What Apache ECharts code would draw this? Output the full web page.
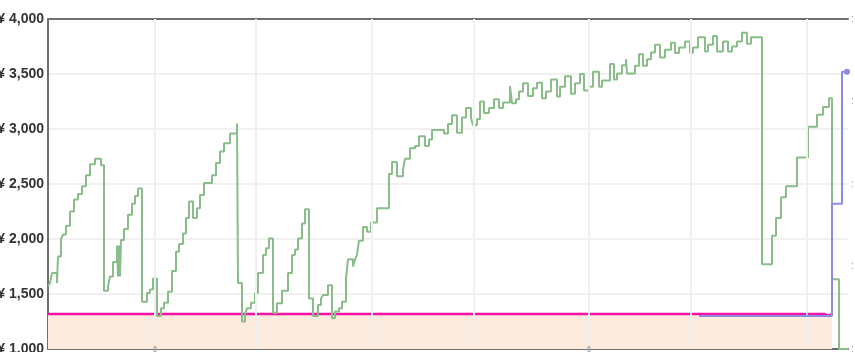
<!DOCTYPE html>
<html>
<head>
<meta charset="utf-8">
<script src="https://cdn.jsdelivr.net/npm/echarts@6/dist/echarts.min.js"></script>
<style>html,body{margin:0;padding:0;background:#fff}#c{width:855px;height:352px}</style>
</head>
<body>
<div id="c"></div>
<script>
// x positions are days along the time axis (0..800), y values are prices in yen
const yTicks = [1000, 1500, 2000, 2500, 3000, 3500, 4000];
const monthLines = [107, 208, 324, 426, 541, 643, 759];
const axisTickDays = [107, 541];

const greenDays = [0,2,4,9,10,13,15,18,22,26,30,34,38,42,47,53,56,60,62,65,69,70,71,72,73,76,80,84,87,90,94,99,102,105,109,113,116,120,124,128,131,135,138,141,145,149,152,156,164,168,172,176,182,189,190,194,197,199,203,207,210,215,218,221,225,229,234,240,244,247,250,254,257,261,265,270,273,275,280,284,287,291,294,298,300,305,307,309,311,315,319,323,329,341,344,349,355,357,362,367,371,377,381,384,396,400,404,409,414,418,423,425,429,432,436,441,446,451,455,462,464,468,471,475,480,485,489,494,498,503,509,512,517,523,527,532,536,541,545,551,554,562,566,569,574,578,579,587,591,595,599,603,607,612,617,623,627,631,637,642,645,650,657,660,665,669,675,680,684,689,694,699,703,714,724,728,733,738,749,760,769,775,781,784,791,800];
const greenPrice = [1570,1600,1690,1600,1840,2000,2040,2120,2250,2360,2410,2480,2580,2680,2730,2670,1530,1570,1660,1790,1940,1660,1940,1660,1990,2090,2220,2320,2390,2460,1430,1510,1540,1640,1300,1370,1420,1520,1710,1885,1955,2050,2190,2340,2190,2280,2400,2510,2580,2690,2795,2870,2960,3050,1600,1250,1320,1370,1420,1510,1690,1855,1915,2005,1330,1415,1530,1690,1855,1905,2005,2140,2270,1460,1300,1400,1460,1490,1580,1280,1340,1370,1430,1640,1815,1750,1815,1855,1985,2110,2065,2150,2280,2590,2700,2570,2630,2730,2825,2845,2935,2845,2905,2990,2960,3045,3125,2965,3105,3190,3100,3035,3090,3250,3145,3190,3270,3190,3240,3390,3235,3270,3340,3415,3300,3370,3420,3280,3340,3450,3295,3385,3480,3320,3415,3500,3350,3385,3520,3385,3440,3590,3450,3505,3580,3635,3505,3575,3680,3575,3635,3695,3765,3650,3720,3785,3690,3740,3795,3690,3740,3835,3705,3765,3845,3705,3795,3705,3750,3795,3875,3775,3835,1770,2030,2190,2380,2480,2740,3020,3130,3200,3280,1635,1000,1000];

const purpleDays = [651, 784, 794, 799];
const purplePrice = [1300, 2320, 3520, 3520];

const pinkDays = [0, 776, 781, 783];
const pinkPrice = [1318, 1300, 1318, 1318];

const areaDays = [0, 784];
const areaPrice = [1318, 1318];

const zip = (xs, ys) => xs.map((x, i) => [x, ys[i]]);

const chart = echarts.init(document.getElementById('c'), null, {renderer: 'canvas'});
chart.setOption({
  animation: false,
  grid: {left: 48, right: 7, top: 19, bottom: 3, containLabel: false, outerBoundsMode: 'none'},
  xAxis: [
    {type: 'value', min: 0, max: 800, position: 'bottom',
     axisLine: {show: true, lineStyle: {color: '#6f6f6f', width: 2}},
     axisTick: {show: false}, axisLabel: {show: false}, splitLine: {show: false}},
    {type: 'value', min: 0, max: 800, position: 'top',
     axisLine: {show: true, lineStyle: {color: '#6f6f6f', width: 2}},
     axisTick: {show: false}, axisLabel: {show: false}, splitLine: {show: false}}
  ],
  yAxis: [
    {type: 'value', min: 1000, max: 4000, interval: 500, position: 'left',
     axisLine: {show: true, lineStyle: {color: '#6f6f6f', width: 2}},
     axisTick: {show: false},
     axisLabel: {margin: 4, color: '#333', fontWeight: 'bold', fontSize: 14,
       fontFamily: 'Liberation Sans, Arial, sans-serif',
       formatter: v => '¥ ' + v.toLocaleString('en-US')},
     splitLine: {show: true, lineStyle: {color: '#ececec', width: 1.5}}},
    {type: 'value', min: 0, max: 4, interval: 1, position: 'right',
     axisLine: {show: true, lineStyle: {color: '#6f6f6f', width: 2}},
     axisTick: {show: false},
     axisLabel: {margin: 3, color: '#999', fontSize: 10,
       fontFamily: 'Liberation Sans, Arial, sans-serif',
       formatter: v => ':'},
     splitLine: {show: false}}
  ],
  series: [
    {type: 'line', name: 'area', data: zip(areaDays, areaPrice), step: 'end',
     symbol: 'none', lineStyle: {width: 0}, areaStyle: {color: '#fdecdd', opacity: 1, origin: 'start'},
     z: 1,
     markLine: {silent: true, symbol: 'none', label: {show: false},
       lineStyle: {color: '#f0f0f0', width: 2, type: 'solid'},
       data: monthLines.map(d => ({xAxis: d}))}},
    {type: 'line', name: 'pink', data: zip(pinkDays, pinkPrice), step: 'end',
     symbol: 'none', lineStyle: {color: '#f712a6', width: 2.5}, z: 3},
    {type: 'line', name: 'green', data: zip(greenDays, greenPrice), step: 'end',
     symbol: 'none', lineStyle: {color: '#8abd8a', width: 2}, z: 4},
    {type: 'line', name: 'purple',
     data: zip(purpleDays, purplePrice).map((p, i) => i === purpleDays.length - 1 ? {value: p} : {value: p, symbol: 'none'}),
     step: 'end', symbol: 'circle', symbolSize: 6, showSymbol: true,
     itemStyle: {color: '#8c8ce2'},
     lineStyle: {color: '#8c8ce2', width: 2}, z: 5, clip: false},
    {type: 'scatter', name: 'ticks', data: axisTickDays.map(d => [d, 1000]),
     symbol: 'rect', symbolSize: [3, 6], itemStyle: {color: '#a8a8a8'}, clip: false, z: 6}
  ]
});
</script>
</body>
</html>
